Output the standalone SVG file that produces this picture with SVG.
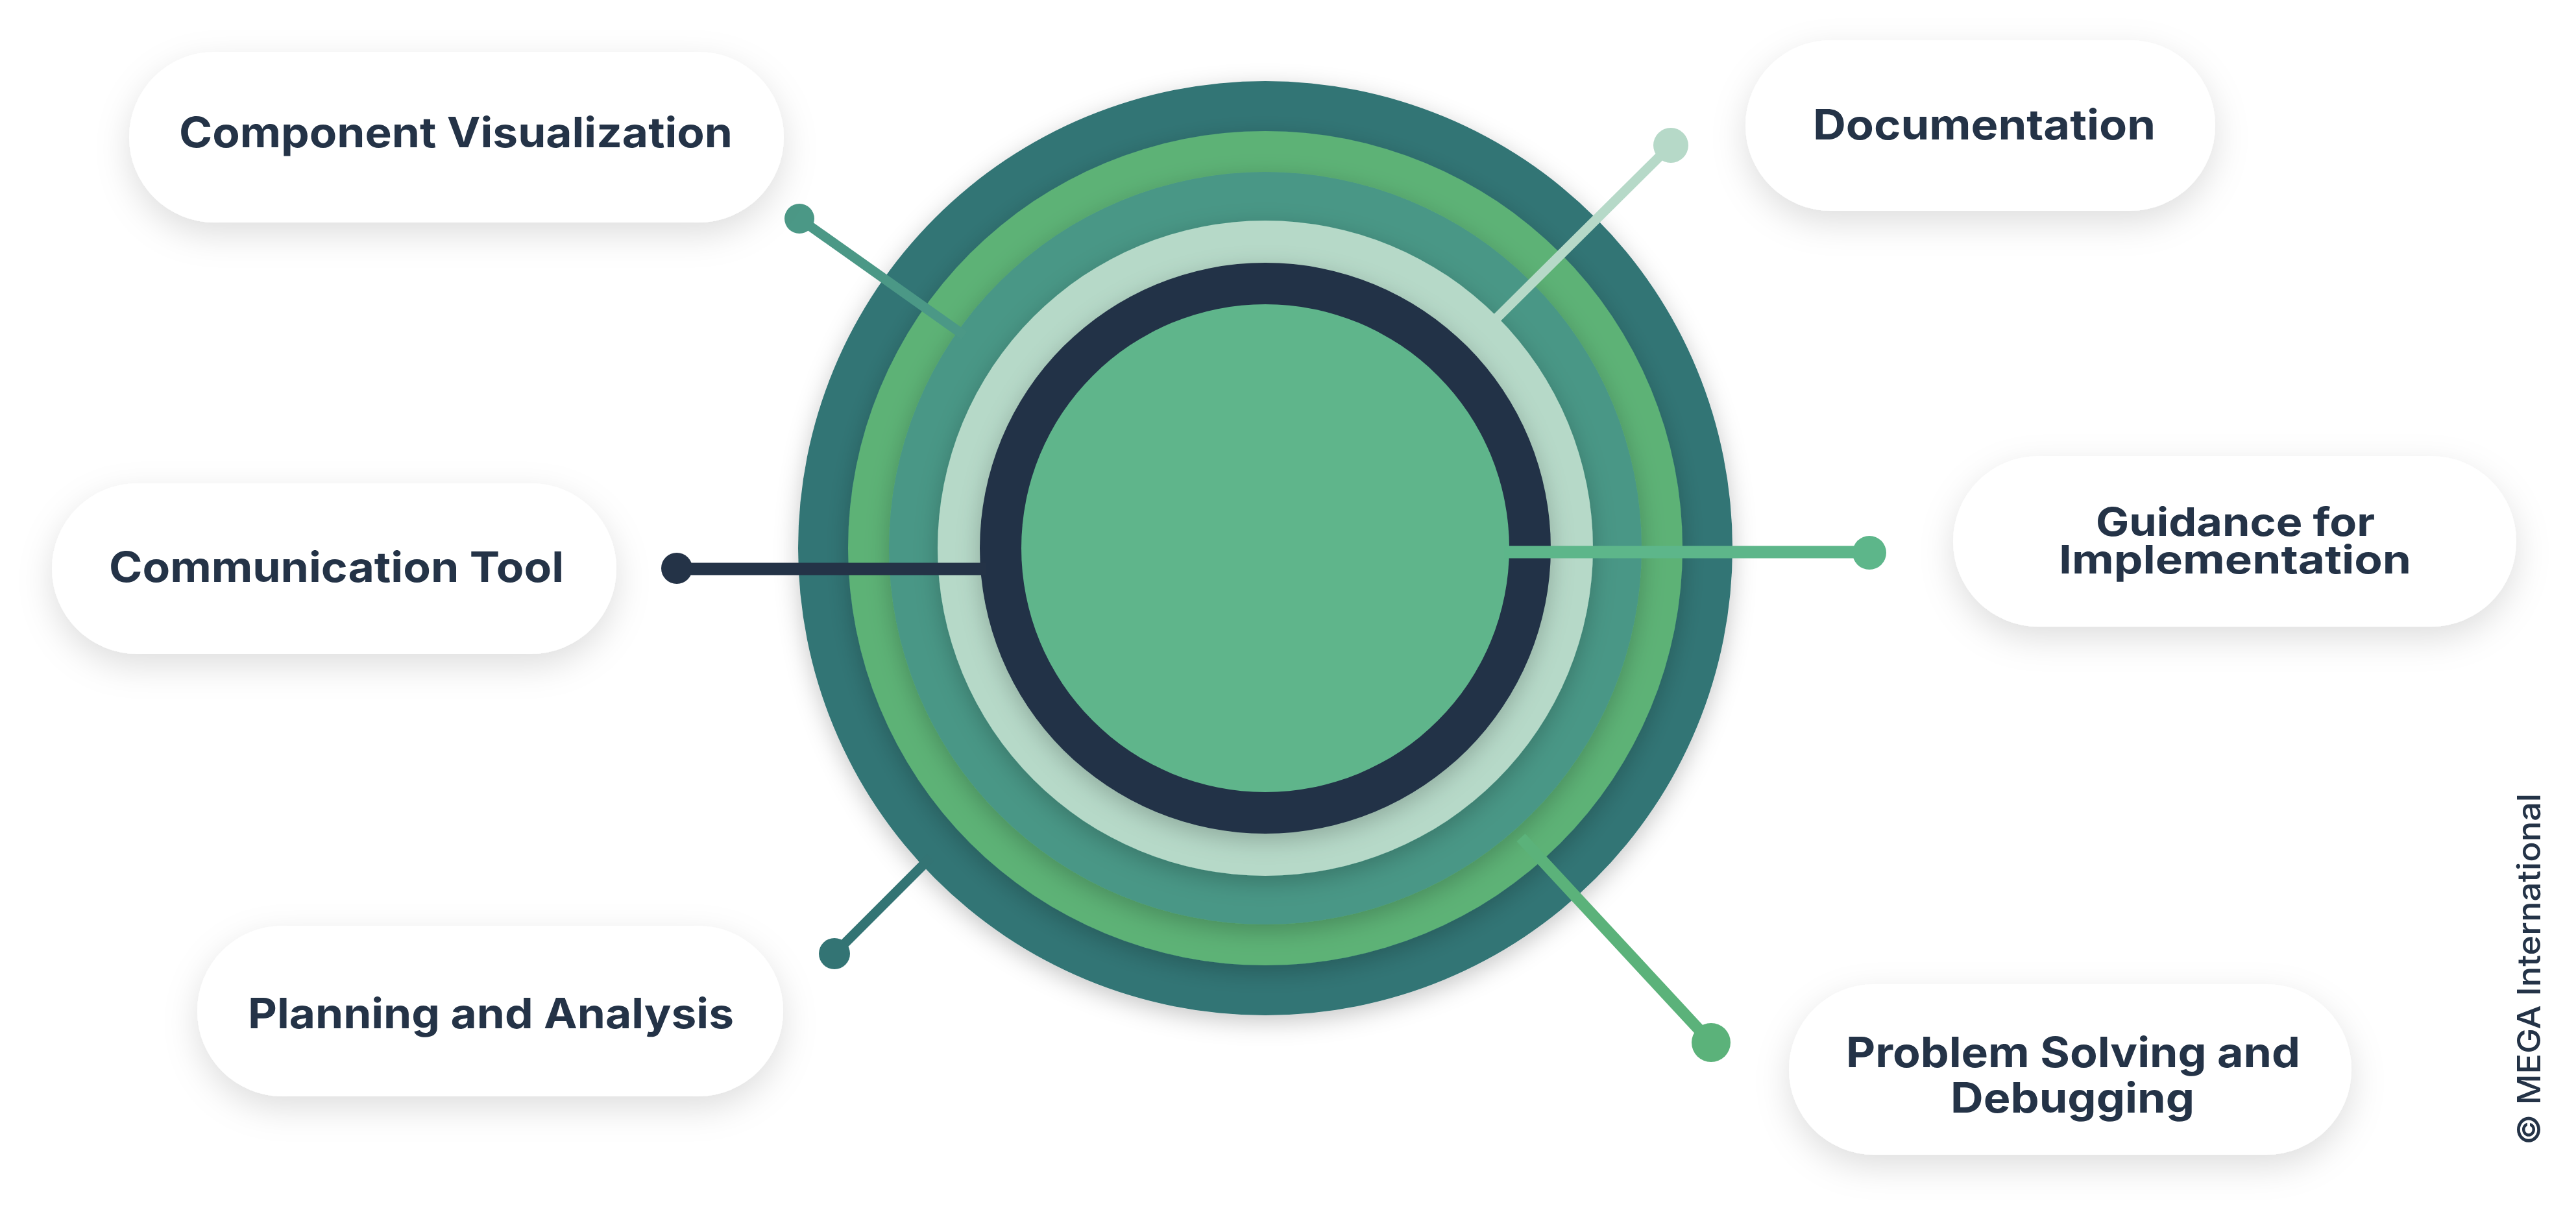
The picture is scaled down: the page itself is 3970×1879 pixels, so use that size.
<svg xmlns="http://www.w3.org/2000/svg" width="3970" height="1879" viewBox="0 0 3970 1879">
  <defs>
    <filter id="boxShadow" x="-20%" y="-40%" width="140%" height="190%">
      <feDropShadow dx="0" dy="18" stdDeviation="26" flood-color="#000" flood-opacity="0.13"/>
    </filter>
    <filter id="ringShadow" x="-20%" y="-20%" width="140%" height="140%">
      <feDropShadow dx="0" dy="10" stdDeviation="18" flood-color="#000" flood-opacity="0.22"/>
    </filter>
    <style>
      .box { fill: #ffffff; filter: url(#boxShadow); }
      .lbl { font-family: Inter, "Open Sans", "Liberation Sans", sans-serif; font-weight: 700; font-size: 64px; fill: #243347; }
      .lbl2 { font-size: 60px; }
      .conn { fill: none; stroke-linecap: butt; }
      .ring { filter: url(#ringShadow); }
    </style>
  </defs>
  <rect width="3970" height="1879" fill="#ffffff"/>

  <g id="hub">
    <circle class="ring" cx="1950" cy="845" r="720" fill="#337474"/>
    <circle class="ring" cx="1950" cy="845" r="643" fill="#5db276"/>
    <circle class="ring" cx="1950" cy="845" r="580" fill="#4a9786"/>
    <circle class="ring" cx="1950" cy="845" r="505" fill="#b6d9c8"/>
    <circle class="ring" cx="1950" cy="845" r="440" fill="#243347"/>
    <circle cx="1950" cy="845" r="376" fill="#5fb58b"/>
  </g>

  <g id="connectors">
    <g id="conn-component">
      <line class="conn" x1="1232" y1="337" x2="1486" y2="517" stroke="#4b9886" stroke-width="15"/>
      <circle cx="1232" cy="337" r="23" fill="#4b9886"/>
    </g>
    <g id="conn-documentation">
      <line class="conn" x1="2575" y1="224" x2="2302" y2="495" stroke="#b6d9c8" stroke-width="15"/>
      <circle cx="2575" cy="224" r="27" fill="#b6d9c8"/>
    </g>
    <g id="conn-communication">
      <line class="conn" x1="1043" y1="877" x2="1520" y2="877" stroke="#243347" stroke-width="19"/>
      <circle cx="1043" cy="876" r="24" fill="#243347"/>
    </g>
    <g id="conn-guidance">
      <line class="conn" x1="2318" y1="851" x2="2881" y2="851" stroke="#5db68a" stroke-width="19"/>
      <circle cx="2881" cy="852" r="26" fill="#5db68a"/>
    </g>
    <g id="conn-planning">
      <line class="conn" x1="1286" y1="1470" x2="1434" y2="1322" stroke="#337474" stroke-width="15"/>
      <circle cx="1286" cy="1470" r="24" fill="#337474"/>
    </g>
    <g id="conn-problem">
      <line class="conn" x1="2637" y1="1607" x2="2344" y2="1291" stroke="#5bb27a" stroke-width="18"/>
      <circle cx="2637" cy="1607" r="30" fill="#5bb27a"/>
    </g>
  </g>

  <g id="node-component">
    <rect class="box" x="199" y="80" width="1009" height="263" rx="131.5"/>
    <text class="lbl" x="276" y="227" textLength="853" lengthAdjust="spacingAndGlyphs">Component Visualization</text>
  </g>
  <g id="node-documentation">
    <rect class="box" x="2690" y="62" width="724" height="263" rx="131.5"/>
    <text class="lbl" x="2794" y="215" textLength="528" lengthAdjust="spacingAndGlyphs">Documentation</text>
  </g>
  <g id="node-communication">
    <rect class="box" x="80" y="745" width="870" height="263" rx="131.5"/>
    <text class="lbl" x="168" y="897" textLength="701" lengthAdjust="spacingAndGlyphs">Communication Tool</text>
  </g>
  <g id="node-guidance">
    <rect class="box" x="3010" y="703" width="868" height="263" rx="131.5"/>
    <text class="lbl lbl2" x="3230" y="826" textLength="430" lengthAdjust="spacingAndGlyphs">Guidance for</text>
    <text class="lbl lbl2" x="3173" y="884" textLength="543" lengthAdjust="spacingAndGlyphs">Implementation</text>
  </g>
  <g id="node-planning">
    <rect class="box" x="304" y="1427" width="903" height="263" rx="131.5"/>
    <text class="lbl" x="382" y="1585" textLength="749" lengthAdjust="spacingAndGlyphs">Planning and Analysis</text>
  </g>
  <g id="node-problem">
    <rect class="box" x="2757" y="1517" width="867" height="263" rx="131.5"/>
    <text class="lbl" x="2845" y="1645" textLength="700" lengthAdjust="spacingAndGlyphs">Problem Solving and</text>
    <text class="lbl" x="3006" y="1715" textLength="376" lengthAdjust="spacingAndGlyphs">Debugging</text>
  </g>

  <text transform="translate(3915,1765) rotate(-90)" font-family="Inter, 'Liberation Sans', sans-serif" font-weight="500" font-size="50" fill="#243347" textLength="542" lengthAdjust="spacingAndGlyphs">© MEGA International</text>
</svg>
